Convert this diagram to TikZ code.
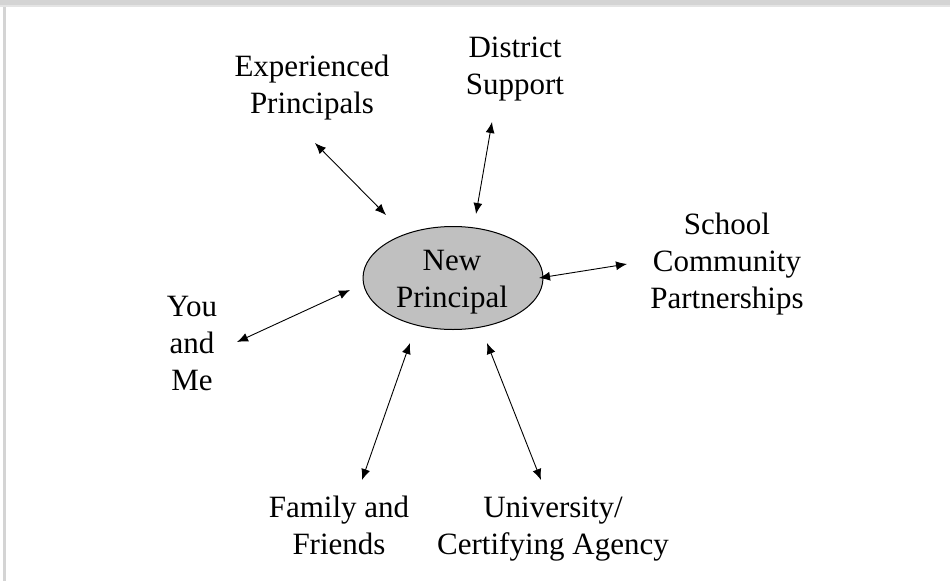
\documentclass[tikz,border=0pt]{standalone}
\usepackage{fontspec}
\setmainfont{Liberation Serif}
\usepackage{tikz}
\usetikzlibrary{shapes.geometric,arrows.meta}
\tikzset{>={Latex[length=11pt,width=9pt]}}
\definecolor{hubgray}{HTML}{C0C0C0}
\definecolor{framegray}{HTML}{D4D4D4}
\definecolor{framelight}{HTML}{E4E4E4}
\tikzset{
  txt/.style={align=center, font=\fontsize{31}{37}\selectfont, inner sep=0pt, anchor=base},
  hub/.style={ellipse, draw=black, line width=1pt, fill=hubgray, minimum width=180pt, minimum height=103pt, inner sep=0pt},
  link/.style={<->, line width=0.9pt}
}

\begin{document}
\begin{tikzpicture}[x=1pt,y=-1pt]
    \useasboundingbox (0,0) rectangle (950,581);
    % frame
    \fill[framegray] (0,0) rectangle (950,5);
    \fill[framelight] (0,5) rectangle (950,7);
    \fill[framegray] (3,7) rectangle (6,581);

    \node[hub] (np) at (453,278) {};
    \node[txt] (npt) at (452,307) {New\\Principal};

    % base anchor sits on the last line
    \node[txt] (exp) at (312,113) {Experienced\\Principals};
    \node[txt] (dist) at (515,94) {District\\Support};
    \node[txt] (scp) at (727,308) {School\\Community\\Partnerships};
    \node[txt] (you) at (192,390) {You\\and\\Me};
    \node[txt] (fam) at (339,554) {Family and\\Friends};
    \node[txt] (uni) at (553,554) {University/\\Certifying Agency};

    % arrow ends
    \coordinate (e1) at (386,215); \coordinate (e2) at (315,143);
    \coordinate (d1) at (476,214); \coordinate (d2) at (492,122);
    \coordinate (s1) at (539,278); \coordinate (s2) at (627,264);
    \coordinate (y1) at (350,290); \coordinate (y2) at (237,342);
    \coordinate (f1) at (410,343); \coordinate (f2) at (362,480);
    \coordinate (u1) at (487,343); \coordinate (u2) at (541,480);

    \draw[link] (e1) -- (e2);
    \draw[link] (d1) -- (d2);
    \draw[link] (s1) -- (s2);
    \draw[link] (y1) -- (y2);
    \draw[link] (f1) -- (f2);
    \draw[link] (u1) -- (u2);
\end{tikzpicture}
\end{document}
